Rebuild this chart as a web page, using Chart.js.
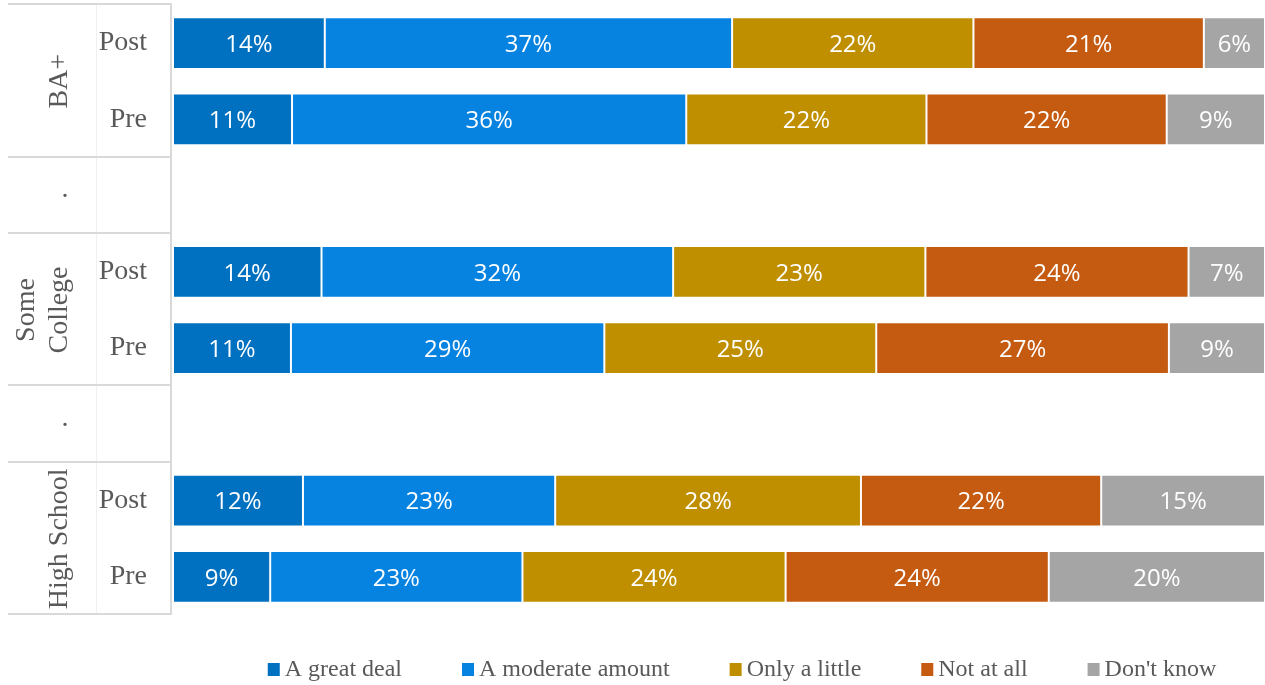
<!DOCTYPE html>
<html>
<head>
<meta charset="utf-8">
<title>Education</title>
<script src="https://cdn.jsdelivr.net/npm/chart.js@4.4.0/dist/chart.umd.min.js"></script>
<style>
  body { margin: 0; background: #fff; }
  #wrap { width: 1265px; height: 685px; }
</style>
</head>
<body>
<div id="wrap"><canvas id="myChart" width="1265" height="685"></canvas></div>
<script>
// rows top to bottom, '.' rows are spacers between education groups
let rows = ['Post', 'Pre', '.', 'Post', 'Pre', '.', 'Post', 'Pre'];
let groups = [['BA+'], ['Some', 'College'], ['High School']];

let series = ['A great deal', 'A moderate amount', 'Only a little', 'Not at all', "Don't know"];
let greatDeal  = [13.9, 10.9, null, 13.6, 10.8, null, 11.9, 8.9];
let moderate   = [37.3, 36.1, null, 32.2, 28.7, null, 23.1, 23.1];
let onlyLittle = [22.1, 22.0, null, 23.1, 24.9, null, 28.0, 24.1];
let notAtAll   = [21.1, 22.0, null, 24.1, 26.8, null, 22.0, 24.1];
let dontKnow   = [5.6, 9.0, null, 7.0, 8.8, null, 15.0, 19.8];

let colors = ['#0070C0', '#0683E1', '#BF8F00', '#C55A11', '#A5A5A5'];
let values = [greatDeal, moderate, onlyLittle, notAtAll, dontKnow];

let serif = '"Liberation Serif", "Times New Roman", serif';
let textGrey = '#595959';
let lineGrey = '#d9d9d9';

// percentage text in the middle of every segment
let barLabels = {
    id: 'barLabels',
    afterDatasetsDraw(chart) {
        let ctx = chart.ctx;
        ctx.save();
        ctx.font = '24px "Open Sans", sans-serif';
        ctx.fillStyle = '#ffffff';
        ctx.textAlign = 'center';
        ctx.textBaseline = 'middle';
        chart.data.datasets.forEach((ds, i) => {
            chart.getDatasetMeta(i).data.forEach((bar, j) => {
                let v = ds.data[j];
                if (v == null) return;
                ctx.fillText(Math.round(v) + '%', (bar.x + bar.base) / 2, bar.y + 2);
            });
        });
        ctx.restore();
    }
};

// outer category column, separators and the legend
let sideAxis = {
    id: 'sideAxis',
    afterDraw(chart) {
        let ctx = chart.ctx;
        let area = chart.chartArea;
        let y = chart.scales.y;
        let step = y.getPixelForValue(1) - y.getPixelForValue(0);
        let edge = i => y.getPixelForValue(i) - step / 2;
        ctx.save();

        // faint divider between the two label columns
        ctx.strokeStyle = '#f0f0f0';
        ctx.lineWidth = 1;
        ctx.beginPath();
        ctx.moveTo(96.5, area.top - 1);
        ctx.lineTo(96.5, area.bottom);
        ctx.stroke();

        ctx.strokeStyle = lineGrey;
        ctx.lineWidth = 2;
        [0, 2, 3, 5, 6, 8].forEach(i => {
            let py = Math.round(edge(i)) - 1;
            ctx.beginPath();
            ctx.moveTo(8, py);
            ctx.lineTo(area.left - 1, py);
            ctx.stroke();
        });
        ctx.beginPath();
        ctx.moveTo(area.left - 2, area.top - 2);
        ctx.lineTo(area.left - 2, area.bottom);
        ctx.stroke();

        // group names, rotated
        ctx.fillStyle = textGrey;
        ctx.font = '28px ' + serif;
        ctx.textAlign = 'center';
        ctx.textBaseline = 'middle';
        groups.forEach((lines, g) => {
            let cy = (y.getPixelForValue(g * 3) + y.getPixelForValue(g * 3 + 1)) / 2;
            lines.forEach((line, k) => {
                let cx = 60 - (lines.length - 1 - k) * 33;
                ctx.save();
                ctx.translate(cx, cy);
                ctx.rotate(-Math.PI / 2);
                ctx.fillText(line, 0, 0);
                ctx.restore();
            });
        });
        rows.forEach((r, i) => {
            if (r === '.') ctx.fillText('.', 65, y.getPixelForValue(i) - 6);
        });

        // legend
        ctx.font = '24px ' + serif;
        ctx.textAlign = 'left';
        let items = chart.data.datasets.map(ds => ({
            text: ds.label,
            color: ds.backgroundColor,
            w: ctx.measureText(ds.label).width
        }));
        let total = items.reduce((s, it) => s + 17 + it.w, 0) + 60 * (items.length - 1);
        let x = 742 - total / 2;
        let ly = 669;
        items.forEach(it => {
            ctx.fillStyle = it.color;
            ctx.fillRect(x, ly - 6, 12, 13);
            ctx.fillStyle = textGrey;
            ctx.fillText(it.text, x + 17, ly + 1);
            x += 17 + it.w + 60;
        });
        ctx.restore();
    }
};

let myChart = document.getElementById('myChart').getContext('2d');

let educationChart = new Chart(myChart, {
    type: 'bar',
    data: {
        labels: rows,
        datasets: series.map((name, i) => ({
            label: name,
            data: values[i],
            backgroundColor: colors[i],
            borderColor: 'rgba(255,255,255,0.2)',
            borderWidth: 1,
            borderSkipped: false,
            barPercentage: 0.68,
            categoryPercentage: 1
        }))
    },
    options: {
        indexAxis: 'y',
        responsive: false,
        animation: false,
        devicePixelRatio: 1,
        layout: { padding: { top: 5, bottom: 70, left: 0, right: 0 } },
        plugins: {
            legend: { display: false },
            tooltip: { enabled: false }
        },
        scales: {
            x: { stacked: true, min: 0, max: 100, display: false },
            y: {
                stacked: true,
                grid: { display: false, drawTicks: false },
                border: { display: false },
                ticks: {
                    color: textGrey,
                    font: { family: serif, size: 28 },
                    padding: 26,
                    callback: function (v, i) { return rows[i] === '.' ? '' : rows[i]; }
                },
                afterFit: function (scale) {
                    scale.width = 173;
                    scale.paddingTop = 0;
                    scale.paddingBottom = 0;
                }
            }
        }
    },
    plugins: [barLabels, sideAxis]
});
</script>
</body>
</html>
